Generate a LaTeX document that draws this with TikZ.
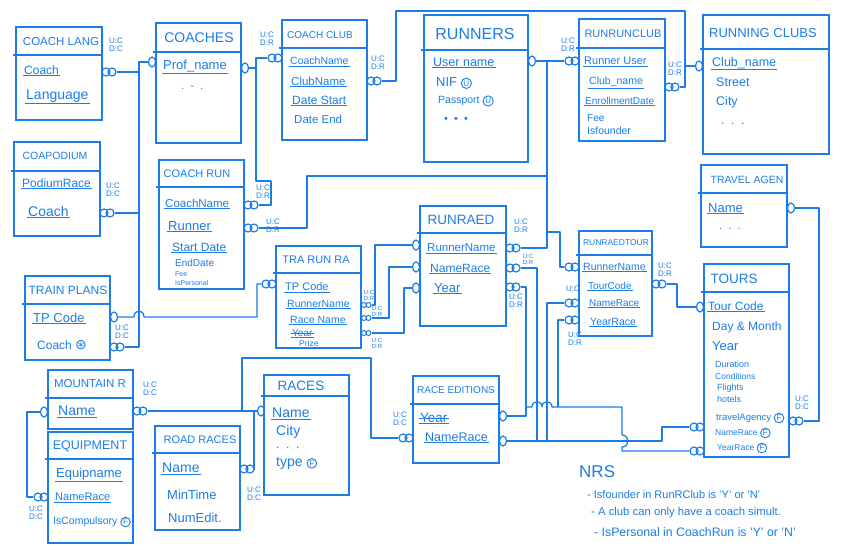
\documentclass[tikz,border=0pt]{standalone}
\usepackage{fontspec}
\setmainfont{Liberation Sans}
\newfontfamily\dv{DejaVu Sans}
\usetikzlibrary{shapes.geometric}
\definecolor{ink}{RGB}{28,125,230}
\newcommand\circmark[1]{\tikz[baseline=(cm.base)]\node[draw=ink, circle, line width=0.9pt, inner sep=0.8pt, text=ink, font=\fontsize{8}{8}\selectfont] (cm) {#1};}
\newcommand\FK{\circmark{F}}
\newcommand\UQ{\circmark{U}}
\newcommand\AST{{\dv\fontsize{14}{14}\selectfont ⊛}}
\newcommand\myent[6]{%
  \node[ent, minimum width={(#4-#2)*1pt}, minimum height={(#5-#3)*1pt}] (#1) at (#2,#3) {};
  \draw[boxline] ({#2-3},#6) -- (#4,#6);}
\newcommand\OO[3]{\node[many] (#1a) at (#2,#3) {};\node[many] (#1b) at ({#2+6},#3) {};}
\newcommand\OOs[3]{\node[manys] (#1a) at (#2,#3) {};\node[manys] (#1b) at ({#2+4.5},#3) {};}
\begin{document}
\begin{tikzpicture}[x=1pt, y=-1pt,
 ent/.style={draw=ink, line width=1.6pt, anchor=north west, inner sep=0pt, outer sep=0pt},
 boxline/.style={draw=ink, line width=1.6pt},
 ttl/.style={text=ink, inner sep=0pt, font=\fontsize{#1}{#1}\selectfont},
 att/.style={text=ink, anchor=west, inner sep=1pt, font=\fontsize{11}{12}\selectfont},
 fs/.style={font=\fontsize{#1}{#1}\selectfont},
 key/.style={att, append after command={(\tikzlastnode.south west) edge[draw=ink, line width=1pt] (\tikzlastnode.south east)}},
 struck/.style={append after command={(\tikzlastnode.west) edge[draw=ink, line width=1pt] (\tikzlastnode.east)}},
 one/.style={draw=ink, line width=1.2pt, ellipse, minimum width=7pt, minimum height=10pt, inner sep=0pt},
 many/.style={draw=ink, line width=1.2pt, circle, minimum size=8pt, inner sep=0pt},
 manys/.style={draw=ink, line width=1pt, circle, minimum size=5pt, inner sep=0pt},
 card/.style={text=ink, align=center, inner sep=0pt, font=\fontsize{8}{8}\selectfont},
 cards/.style={text=ink, align=center, inner sep=0pt, font=\fontsize{6}{6}\selectfont},
 conn/.style={draw=ink, line width=1.3pt, line join=round}]
\fill[white] (0,0) rectangle (848,549);
\useasboundingbox (0,0) rectangle (848,549);

% ---------- entities ----------
\myent{cl}{16}{27}{102}{120}{55}
\node[ttl=11.5] (clt) at (61,42) {COACH LANG};
\node[key, fs=12] (cla1) at (23,70) {Coach};
\node[key, fs=14] (cla2) at (25,96) {Language};

\myent{co}{156}{23}{241}{143}{52}
\node[ttl=14] (cot) at (199,38) {COACHES};
\node[key, fs=13] (coa1) at (162,66) {Prof\_name};
\node[att, fs=11] (coa2) at (180,88) {.\ \ -\ \ .};

\myent{cc}{282}{20}{367}{140}{48}
\node[ttl=10] (cct) at (320,35) {COACH CLUB};
\node[key, fs=10.5] (cca1) at (289,61) {CoachName};
\node[key, fs=11.5] (cca2) at (290,81) {ClubName};
\node[key, fs=12] (cca3) at (291,100) {Date Start};
\node[att, fs=11.5] (cca4) at (293,119) {Date End};

\myent{ru}{424}{15}{528}{162}{50}
\node[ttl=16] (rut) at (475,34) {RUNNERS};
\node[key, fs=12.5] (rua1) at (432,62) {User name};
\node[att, fs=13] (rua2) at (435,83) {NIF \UQ};
\node[att, fs=10.5] (rua3) at (437,101) {Passport \UQ};
\node[att, fs=11] (rua4) at (443,120) {\textbullet\ \ \textbullet\ \ \textbullet};

\myent{rrc}{579}{19}{665}{141}{48}
\node[ttl=11] (rrct) at (623,34) {RUNRUNCLUB};
\node[key, fs=11] (rrca1) at (583,61) {Runner User};
\node[key, fs=10.5] (rrca2) at (588,82) {Club\_name};
\node[key, fs=10] (rrca3) at (584,101) {EnrollmentDate};
\node[att, fs=10] (rrca4) at (586,118) {Fee};
\node[att, fs=10.5] (rrca5) at (586,131) {Isfounder};

\myent{rc}{703}{15}{829}{154}{49}
\node[ttl=13] (rct) at (763,33) {RUNNING CLUBS};
\node[key, fs=12.5] (rca1) at (711,63) {Club\_name};
\node[att, fs=12.5] (rca2) at (715,82) {Street};
\node[att, fs=12.5] (rca3) at (715,102) {City};
\node[att, fs=12] (rca4) at (720,124) {.\ \ .\ \ .};

\myent{cp}{14}{142}{100}{236}{171}
\node[ttl=10.5] (cpt) at (55,156) {COAPODIUM};
\node[key, fs=12] (cpa1) at (21,183) {PodiumRace};
\node[key, fs=14] (cpa2) at (27,211) {Coach};

\myent{cr}{159}{160}{244}{289}{187}
\node[ttl=11] (crt) at (197,174) {COACH RUN};
\node[key, fs=11.5] (cra1) at (164,203) {CoachName};
\node[key, fs=13] (cra2) at (167,226) {Runner};
\node[key, fs=12] (cra3) at (171,247) {Start Date};
\node[att, fs=10] (cra4) at (174,263) {EndDate};
\node[att, fs=7] (cra5) at (174,274) {Fee};
\node[att, fs=7] (cra6) at (174,283) {IsPersonal};

\myent{tp}{25}{276}{110}{360}{304}
\node[ttl=12] (tpt) at (68,290) {TRAIN PLANS};
\node[key, fs=13] (tpa1) at (32,318) {TP Code};
\node[att, fs=12] (tpa2) at (36,345) {Coach \AST};

\myent{tr}{276}{246}{361}{348}{273}
\node[ttl=11] (trt) at (316,260) {TRA RUN RA};
\node[key, fs=11] (tra1) at (284,287) {TP Code};
\node[key, fs=10.5] (tra2) at (286,304) {RunnerName};
\node[key, fs=10.5] (tra3) at (289,320) {Race Name};
\node[key, struck, fs=10] (tra4) at (291,333) {Year};
\node[att, fs=8.5] (tra5) at (298,343) {Prize};

\myent{rr}{420}{206}{506}{326}{233}
\node[ttl=13.5] (rrt) at (461,220) {RUNRAED};
\node[key, fs=11.5] (rra1) at (426,248) {RunnerName};
\node[key, fs=12] (rra2) at (429,268) {NameRace};
\node[key, fs=13] (rra3) at (433,288) {Year};

\myent{ta}{701}{165}{787}{247}{193}
\node[ttl=10.5] (tat) at (747,180) {TRAVEL AGEN};
\node[key, fs=13] (taa1) at (707,208) {Name};
\node[att, fs=11] (taa2) at (718,229) {.\ \ .\ \ .};

\myent{rt}{579}{231}{652}{336}{255}
\node[ttl=8.5] (rtt) at (616,243) {RUNRAEDTOUR};
\node[key, fs=10.5] (rta1) at (582,267) {RunnerName};
\node[key, fs=10] (rta2) at (587,286) {TourCode};
\node[key, fs=10] (rta3) at (588,303) {NameRace};
\node[key, fs=10.5] (rta4) at (589,322) {YearRace};

\myent{to}{704}{264}{789}{457}{292}
\node[ttl=13.5] (tot) at (734,279) {TOURS};
\node[key, fs=12] (toa1) at (707,306) {Tour Code};
\node[att, fs=12] (toa2) at (711,327) {Day \& Month};
\node[att, fs=13] (toa3) at (711,346) {Year};
\node[att, fs=9] (toa4) at (714,364) {Duration};
\node[att, fs=8.5] (toa5) at (714,376) {Conditions};
\node[att, fs=9] (toa6) at (716,388) {Flights};
\node[att, fs=9] (toa7) at (716,399) {hotels};
\node[att, fs=9.5] (toa8) at (715,418) {travelAgency \FK};
\node[att, fs=8.5] (toa9) at (714,433) {NameRace \FK};
\node[att, fs=8.5] (toa10) at (716,448) {YearRace \FK};

\myent{mr}{48}{370}{133}{429}{398}
\node[ttl=11.5] (mrt) at (90,384) {MOUNTAIN R};
\node[key, fs=14] (mra1) at (57,411) {Name};

\myent{eq}{48}{432}{133}{543}{459}
\node[ttl=12.5] (eqt) at (90,446) {EQUIPMENT};
\node[key, fs=13] (eqa1) at (55,474) {Equipname};
\node[key, fs=11] (eqa2) at (54,497) {NameRace};
\node[att, fs=10.5] (eqa3) at (52,522) {IsCompulsory \FK};

\myent{rd}{155}{426}{240}{530}{453}
\node[ttl=11] (rdt) at (200,440) {ROAD RACES};
\node[key, fs=14] (rda1) at (161,468) {Name};
\node[att, fs=13] (rda2) at (166,495) {MinTime};
\node[att, fs=13] (rda3) at (167,518) {NumEdit.};

\myent{ra}{264}{375}{349}{495}{396}
\node[ttl=13.5] (rat) at (301,386) {RACES};
\node[key, fs=14] (raa1) at (271,413) {Name};
\node[att, fs=14] (raa2) at (275,432) {City};
\node[att, fs=12] (raa3) at (275,448) {.\ \ .\ \ .};
\node[att, fs=14] (raa4) at (275,463) {type \FK};

\myent{re}{413}{376}{499}{463}{404}
\node[ttl=10] (ret) at (456,390) {RACE EDITIONS};
\node[key, struck, fs=13.5] (rea1) at (419,418) {Year};
\node[key, fs=12.5] (rea2) at (424,437) {NameRace};

% ---------- notes ----------
\node[att, fs=17] (nrs) at (578,472) {NRS};
\node[att, fs=11] (nrs1) at (586,495) {- Isfounder in RunRClub is 'Y' or 'N'};
\node[att, fs=11.3] (nrs2) at (590,513) {- A club can only have a coach simult.};
\node[att, fs=12.3] (nrs3) at (593,532) {- IsPersonal in CoachRun is 'Y' or 'N'};

% ---------- connector ends ----------
\OO{clm}{106}{72}
\node[card] (clc) at (116,45) {U:C\\D:C};
\node[one] (coo1) at (152,62) {};
\OO{cpm}{104}{213}
\node[card] (cpc) at (113,190) {U:C\\D:C};
\node[one] (tpo) at (114,317) {};
\OO{tpm}{114}{347}
\node[card] (tpc) at (122,332) {U:C\\D:C};
\OO{trm}{266}{284}

\node[one] (coo2) at (245,68) {};
\OO{ccm}{272}{58}
\node[card] (ccc1) at (267,39) {U:C\\D:R};
\OO{crm}{248}{205}
\node[card] (crc1) at (263,192) {U:C\\D:R};
\OO{crn}{248}{228}
\node[card] (crc2) at (273,226) {U:C\\D:R};

\OO{ccn}{371}{81}
\node[card] (ccc2) at (378,63) {U:C\\D:R};
\OO{rrcn}{669}{87}
\node[card] (rrcc2) at (675,69) {U:C\\D:R};
\node[one] (rco) at (699,66) {};

\node[one] (ruo) at (532,61) {};
\OO{rrcm}{569}{61}
\node[card] (rrcc1) at (568,45) {U:C\\D:R};

\OO{rrp}{510}{248}
\node[card] (rrc1) at (521,226) {U:C\\D:R};
\OO{rrq}{510}{268}
\node[cards] (rrc2) at (528,259) {U:C\\D:R};
\OO{rrs}{510}{287}
\node[card] (rrc3) at (516,301) {U:C\\D:R};
\node[one] (rrl1) at (416,245) {};
\node[one] (rrl2) at (416,267) {};
\node[one] (rrl3) at (416,288) {};

\OOs{trp}{364}{305}
\node[cards] (trc1) at (369,295) {U:C\\D:R};
\OOs{trq}{364}{318}
\node[cards] (trc2) at (377,311) {U:C\\D:R};
\OOs{trs}{364}{333}
\node[cards] (trc3) at (377,343) {U:C\\D:R};

\OO{rtp}{569}{267}
\OO{rtq}{569}{303}
\node[card] (rtc2) at (573,289) {U:C};
\OO{rts}{569}{320}
\node[card] (rtc3) at (575,339) {U:C\\D:R};
\OO{rtr}{656}{284}
\node[card] (rtc1) at (665,270) {U:C\\D:R};

\node[one] (too1) at (700,307) {};
\OO{tom}{694}{427}
\OO{ton}{694}{451}
\OO{tor}{793}{421}
\node[card] (toc) at (802,403) {U:C\\D:C};
\node[one] (tao) at (791,208) {};

\node[one] (reo1) at (503,416) {};
\node[one] (reo2) at (503,441) {};
\OO{rem}{403}{438}
\node[card] (rec) at (400,419) {U:C\\D:C};

\OO{mrm}{137}{411}
\node[card] (mrc) at (150,389) {U:C\\D:C};
\node[one] (rao) at (261,411) {};
\OO{rdm}{244}{469}
\node[card] (rdc) at (254,494) {U:C\\D:C};
\node[one] (mro) at (44,412) {};
\OO{eqm}{38}{497}
\node[card] (eqc) at (36,513) {U:C\\D:C};

% ---------- connectors ----------
\draw[conn] (clmb.east) -- (139,72);
\draw[conn] (coo1.west) -- (139,62) -- (139,347) -- (tpmb.east);
\draw[conn] (cpmb.east) -- (139,213);
\draw[conn] (tpo.east) -- (134,317) .. controls (134,309) and (144,309) .. (144,317) -- (257,317) -- (257,284) -- (trma.west);

\draw[conn] (coo2.east) -- (256,68);
\draw[conn] (ccma.west) -- (256,58) -- (256,181) -- (271,181) -- (271,205) -- (crmb.east);
\draw[conn] (crnb.east) -- (307,228) -- (307,176) -- (547,176);

\draw[conn] (ccnb.east) -- (396,81) -- (396,11) -- (685,11) -- (685,87) -- (rrcnb.east);
\draw[conn] (rco.west) -- (685,66);

\draw[conn] (ruo.east) -- (rrcma.west);
\draw[conn] (rrpb.east) -- (547,248) -- (547,61);
\draw[conn] (547,232) -- (560,232) -- (560,267) -- (rtpa.west);

\draw[conn] (trpb.east) -- (375,305) -- (375,245) -- (rrl1.west);
\draw[conn] (trqb.east) -- (389,318) -- (389,267) -- (rrl2.west);
\draw[conn] (trsb.east) -- (404,333) -- (404,288) -- (rrl3.west);

\draw[conn] (rrqb.east) -- (537,268) -- (537,441);
\draw[conn] (rrsb.east) -- (526,287) -- (526,416) -- (reo1.east);
\draw[conn] (526,407) -- (532,407) .. controls (532,400) and (542,400) .. (542,407) .. controls (542,400) and (552,400) .. (552,407) -- (622,407) -- (622,435) .. controls (630,435) and (630,447) .. (622,447) -- (622,451) -- (tona.west);
\draw[conn] (reo2.east) -- (662,441) -- (662,427) -- (toma.west);
\draw[conn] (rtqa.west) -- (547,303) -- (547,441);
\draw[conn] (rtsa.west) -- (558,320) -- (558,407);

\draw[conn] (rtrb.east) -- (677,284) -- (677,307) -- (too1.west);
\draw[conn] (tao.east) -- (819,208) -- (819,421) -- (torb.east);

\draw[conn] (mrmb.east) -- (rao.west);
\draw[conn] (242,411) -- (242,358) -- (371,358) -- (371,438) -- (rema.west);
\draw[conn] (rdmb.east) -- (254,469) -- (254,411);
\draw[conn] (mro.west) -- (27,412) -- (27,497) -- (eqma.west);
\end{tikzpicture}
\end{document}
